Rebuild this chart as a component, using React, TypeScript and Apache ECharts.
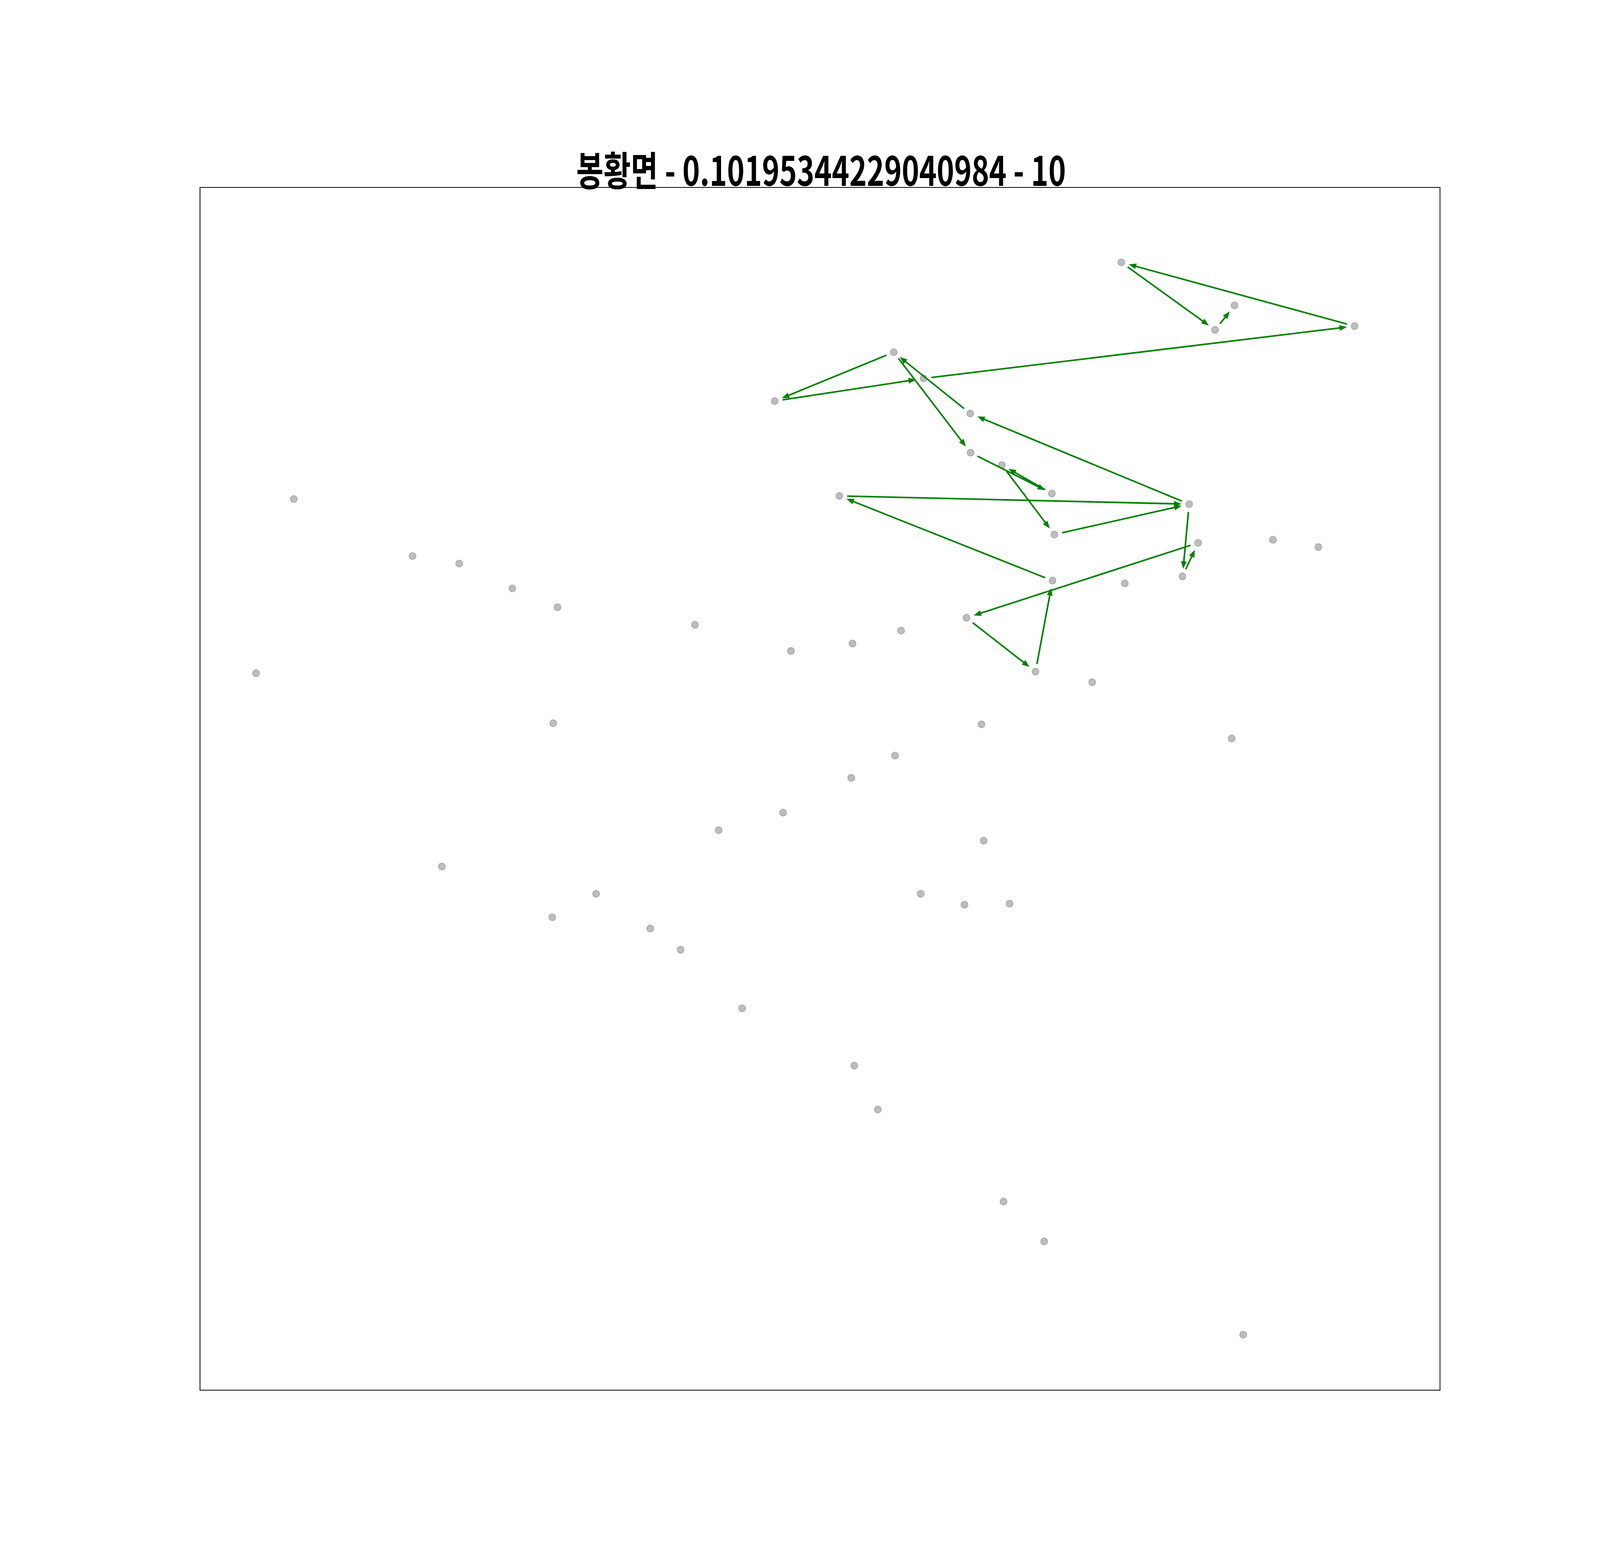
import { useEffect, useRef } from "react";
import * as echarts from "echarts";

const title = "봉황면 - 0.10195344229040984 - 10";

// point positions (relative units, 0-100 across the frame)
const pointX = [
  74.3, 83.43, 81.86, 93.11, 55.95, 58.35, 46.35, 62.12, 62.14, 64.67,
  68.7, 51.56, 79.77, 68.9, 80.49, 86.53, 90.19, 79.23, 68.75, 74.58,
  61.81, 67.38, 71.95, 7.56, 17.14, 20.9, 25.19, 28.83, 39.92, 4.52,
  47.66, 52.62, 56.54, 28.49, 63.02, 83.2, 56.05, 52.52, 47.02, 41.83,
  63.2, 19.51, 31.95, 58.12, 61.65, 65.29, 28.41, 36.31, 38.76, 43.72,
  52.77, 54.66, 64.8, 68.08, 84.13,
];
const pointY = [
  93.77, 90.19, 88.15, 88.47, 86.3, 84.12, 82.24, 81.2, 77.95, 76.92,
  74.55, 74.35, 73.67, 71.14, 70.45, 70.71, 70.1, 67.66, 67.31, 67.08,
  64.22, 59.74, 58.86, 74.09, 69.35, 68.73, 66.66, 65.1, 63.64, 59.61,
  61.46, 62.08, 63.15, 55.45, 55.36, 54.19, 52.76, 50.91, 48.02, 46.56,
  45.68, 43.54, 41.27, 41.27, 40.36, 40.45, 39.32, 38.38, 36.62, 31.75,
  26.98, 23.34, 15.68, 12.37, 4.61,
];

// visiting order (indices into the point arrays)
const route = [4, 8, 10, 9, 13, 12, 17, 14, 20, 21, 18, 11, 12, 7, 4, 6, 5, 3, 0, 2, 1];

export default function App() {
  const chartRef = useRef<HTMLDivElement>(null);

  useEffect(() => {
    document.body.style.margin = "0";
    document.body.style.overflow = "hidden";
    if (!chartRef.current) return;
    const chart = echarts.init(chartRef.current, null, { renderer: "svg" });

    // layout was measured on a 5000x4000 figure; scale it to the real size
    const W = chart.getWidth();
    const H = chart.getHeight();
    const sx = W / 5000;
    const sy = H / 4000;
    const s = Math.sqrt(sx * sy);

    const points = pointX.map((x, i) => [x, pointY[i]]);
    const legs = [];
    for (let i = 0; i < route.length - 1; i++) {
      const a = route[i];
      const b = route[i + 1];
      legs.push([pointX[a], pointY[a], pointX[b], pointY[b]]);
    }

    const shrink = 24 * s;
    const headLen = 18 * s;
    const headHalf = 7 * s;
    const green = "#008000";

    chart.setOption({
      animation: false,
      backgroundColor: "#ffffff",
      graphic: [
        {
          type: "text",
          x: 2566 * sx,
          y: 430 * sy,
          scaleX: (0.89 * sx) / sy,
          style: {
            text: title,
            fontFamily: "Noto Sans CJK KR",
            fontWeight: "bold",
            fontSize: 104 * sy,
            fill: "#000000",
            textAlign: "center",
            textVerticalAlign: "middle",
            align: "center",
            verticalAlign: "middle",
          },
        },
      ],
      grid: {
        left: 625 * sx,
        top: 480 * sy,
        width: 3875 * sx,
        height: 3080 * sy,
        show: true,
        borderColor: "#000000",
        borderWidth: 2,
        backgroundColor: "transparent",
      },
      xAxis: { type: "value", min: 0, max: 100, show: false },
      yAxis: { type: "value", min: 0, max: 100, show: false },
      series: [
        {
          type: "scatter",
          data: points,
          symbolSize: 19 * s,
          itemStyle: {
            color: "#bdbdbd",
            borderColor: "#a8a8a8",
            borderWidth: 2,
            opacity: 1,
          },
          z: 1,
        },
        {
          type: "custom",
          data: legs,
          clip: false,
          z: 2,
          renderItem: (params: any, api: any) => {
            const p1 = api.coord([api.value(0), api.value(1)]);
            const p2 = api.coord([api.value(2), api.value(3)]);
            const dx = p2[0] - p1[0];
            const dy = p2[1] - p1[1];
            const len = Math.sqrt(dx * dx + dy * dy);
            const ux = dx / len;
            const uy = dy / len;
            const ax = p1[0] + ux * shrink;
            const ay = p1[1] + uy * shrink;
            const tx = p2[0] - ux * shrink;
            const ty = p2[1] - uy * shrink;
            const bx = tx - ux * headLen;
            const by = ty - uy * headLen;
            return {
              type: "group",
              children: [
                {
                  type: "line",
                  shape: { x1: ax, y1: ay, x2: bx + ux * 2, y2: by + uy * 2 },
                  style: { stroke: green, lineWidth: 4.5 * s, lineCap: "round" },
                },
                {
                  type: "polygon",
                  shape: {
                    points: [
                      [tx, ty],
                      [bx - uy * headHalf, by + ux * headHalf],
                      [bx + uy * headHalf, by - ux * headHalf],
                    ],
                  },
                  style: { fill: green, stroke: green, lineWidth: 1.5 },
                },
              ],
            };
          },
        },
      ],
    });

    return () => {
      chart.dispose();
    };
  }, []);

  return <div ref={chartRef} style={{ width: "100vw", height: "100vh" }} />;
}
